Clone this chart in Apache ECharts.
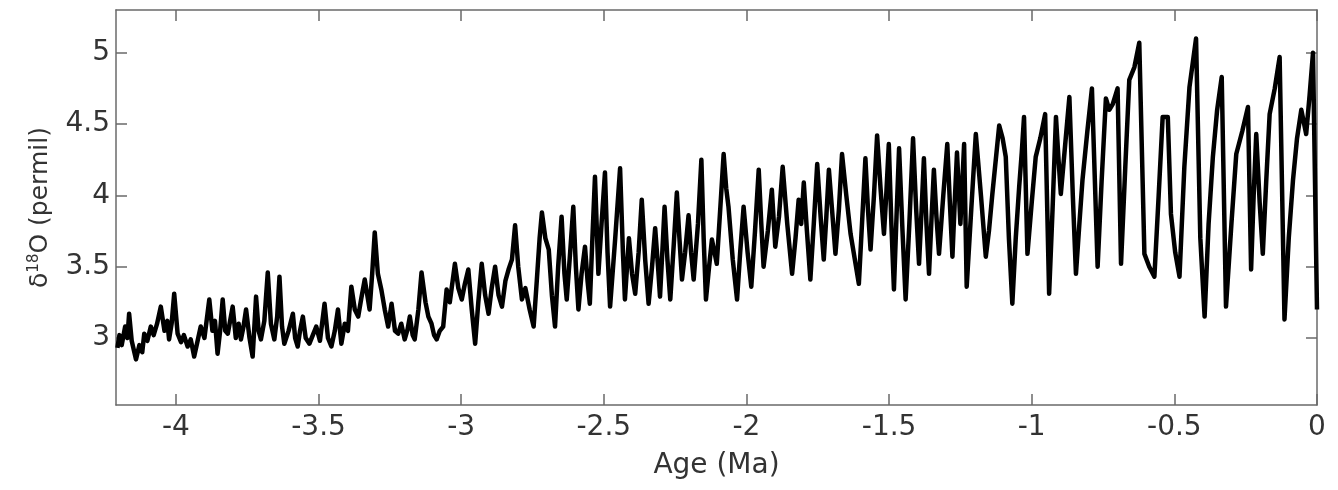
<!DOCTYPE html>
<html>
<head>
<meta charset="utf-8">
<script src="https://cdn.jsdelivr.net/npm/echarts@6/dist/echarts.min.js"></script>
<style>
html,body{margin:0;padding:0;background:#fff;}
#chart{width:1338px;height:490px;}
</style>
</head>
<body>
<div id="chart"></div>
<script>
// Age (Ma) of each read point
var ageMa = [
-4.205,-4.198,-4.190,-4.178,-4.170,-4.164,-4.155,-4.140,-4.128,-4.118,
-4.111,-4.100,-4.088,-4.078,-4.066,-4.053,-4.040,-4.030,-4.024,-4.015,
-4.006,-3.994,-3.982,-3.972,-3.959,-3.948,-3.936,-3.925,-3.913,-3.900,
-3.883,-3.872,-3.863,-3.854,-3.845,-3.836,-3.827,-3.818,-3.810,-3.801,
-3.790,-3.780,-3.772,-3.763,-3.754,-3.742,-3.731,-3.719,-3.710,-3.702,
-3.690,-3.678,-3.667,-3.655,-3.645,-3.637,-3.628,-3.620,-3.605,-3.590,
-3.582,-3.573,-3.565,-3.555,-3.545,-3.532,-3.520,-3.508,-3.495,-3.479,
-3.467,-3.455,-3.443,-3.432,-3.420,-3.408,-3.397,-3.385,-3.373,-3.361,
-3.350,-3.338,-3.321,-3.312,-3.303,-3.292,-3.280,-3.268,-3.256,-3.244,
-3.232,-3.221,-3.210,-3.198,-3.188,-3.180,-3.170,-3.163,-3.150,-3.139,
-3.125,-3.115,-3.104,-3.095,-3.086,-3.075,-3.063,-3.051,-3.040,-3.030,
-3.022,-3.010,-2.998,-2.987,-2.975,-2.963,-2.951,-2.940,-2.928,-2.916,
-2.904,-2.893,-2.881,-2.869,-2.857,-2.845,-2.834,-2.822,-2.811,-2.800,
-2.787,-2.775,-2.760,-2.746,-2.735,-2.725,-2.717,-2.705,-2.693,-2.682,
-2.671,-2.660,-2.648,-2.638,-2.630,-2.618,-2.607,-2.598,-2.589,-2.578,
-2.566,-2.557,-2.549,-2.540,-2.531,-2.519,-2.508,-2.496,-2.487,-2.478,
-2.460,-2.443,-2.433,-2.426,-2.412,-2.401,-2.390,-2.378,-2.367,-2.355,
-2.343,-2.331,-2.320,-2.310,-2.303,-2.295,-2.287,-2.277,-2.267,-2.255,
-2.244,-2.235,-2.226,-2.215,-2.203,-2.194,-2.185,-2.170,-2.158,-2.150,
-2.142,-2.131,-2.121,-2.112,-2.104,-2.092,-2.080,-2.071,-2.063,-2.048,
-2.033,-2.022,-2.010,-1.996,-1.983,-1.970,-1.957,-1.948,-1.940,-1.925,
-1.911,-1.899,-1.886,-1.873,-1.857,-1.840,-1.828,-1.817,-1.808,-1.799,
-1.788,-1.776,-1.764,-1.752,-1.740,-1.729,-1.720,-1.711,-1.700,-1.688,
-1.676,-1.665,-1.650,-1.635,-1.620,-1.606,-1.595,-1.583,-1.574,-1.565,
-1.553,-1.542,-1.530,-1.518,-1.510,-1.501,-1.492,-1.483,-1.474,-1.465,
-1.453,-1.442,-1.429,-1.416,-1.405,-1.395,-1.386,-1.378,-1.369,-1.360,
-1.351,-1.343,-1.334,-1.325,-1.310,-1.296,-1.287,-1.278,-1.270,-1.262,
-1.250,-1.237,-1.228,-1.212,-1.196,-1.178,-1.161,-1.150,-1.138,-1.126,
-1.114,-1.102,-1.091,-1.080,-1.068,-1.056,-1.044,-1.035,-1.027,-1.015,
-1.000,-0.986,-0.970,-0.953,-0.939,-0.927,-0.915,-0.906,-0.898,-0.883,
-0.868,-0.856,-0.845,-0.833,-0.822,-0.805,-0.789,-0.769,-0.755,-0.740,
-0.728,-0.716,-0.699,-0.687,-0.672,-0.658,-0.640,-0.623,-0.605,-0.588,
-0.570,-0.555,-0.541,-0.523,-0.512,-0.497,-0.482,-0.465,-0.447,-0.424,
-0.409,-0.394,-0.380,-0.365,-0.350,-0.334,-0.319,-0.300,-0.283,-0.262,
-0.242,-0.231,-0.222,-0.213,-0.201,-0.190,-0.178,-0.166,-0.148,-0.131,
-0.114,-0.099,-0.084,-0.070,-0.055,-0.038,-0.026,-0.014,0.000
];
// delta 18O (permil) at each age
var d18O = [
2.93,3.02,2.95,3.08,3.00,3.17,2.98,2.85,2.95,2.90,
3.03,2.98,3.08,3.02,3.10,3.22,3.05,3.12,2.99,3.10,
3.31,3.03,2.97,3.02,2.94,2.99,2.87,2.97,3.08,3.00,
3.27,3.05,3.12,2.89,3.05,3.27,3.05,3.03,3.12,3.22,
3.00,3.10,2.99,3.08,3.20,3.00,2.87,3.29,3.05,2.99,
3.12,3.46,3.10,2.99,3.15,3.43,3.08,2.96,3.05,3.17,
3.00,2.94,3.05,3.15,3.00,2.96,3.02,3.08,2.98,3.24,
3.00,2.94,3.05,3.20,2.96,3.10,3.05,3.36,3.20,3.15,
3.28,3.41,3.20,3.45,3.74,3.45,3.34,3.20,3.08,3.24,
3.05,3.03,3.10,2.99,3.06,3.15,3.02,2.99,3.20,3.46,
3.25,3.15,3.10,3.02,2.99,3.05,3.08,3.34,3.25,3.40,
3.52,3.35,3.27,3.38,3.48,3.20,2.96,3.25,3.52,3.30,
3.17,3.35,3.50,3.30,3.22,3.40,3.48,3.55,3.79,3.50,
3.27,3.35,3.20,3.08,3.40,3.70,3.88,3.70,3.62,3.30,
3.08,3.50,3.85,3.45,3.27,3.60,3.92,3.50,3.20,3.45,
3.64,3.40,3.24,3.70,4.13,3.45,3.80,4.16,3.60,3.22,
3.70,4.19,3.60,3.27,3.70,3.45,3.31,3.60,3.97,3.55,
3.24,3.50,3.77,3.50,3.29,3.60,3.92,3.55,3.27,3.65,
4.02,3.70,3.41,3.60,3.86,3.60,3.41,3.80,4.25,3.70,
3.27,3.50,3.69,3.60,3.52,3.90,4.29,4.05,3.92,3.55,
3.27,3.60,3.92,3.60,3.36,3.75,4.18,3.80,3.50,3.75,
4.04,3.64,3.85,4.20,3.80,3.45,3.70,3.97,3.80,4.09,
3.75,3.41,3.80,4.22,3.85,3.55,3.85,4.18,3.90,3.59,
3.90,4.29,4.00,3.73,3.55,3.38,3.80,4.26,3.90,3.62,
4.00,4.42,4.05,3.73,4.00,4.36,3.80,3.34,3.85,4.33,
3.75,3.27,3.80,4.40,3.90,3.52,3.90,4.26,3.80,3.45,
3.85,4.18,3.85,3.59,4.00,4.36,3.95,3.57,3.95,4.30,
3.80,4.36,3.36,3.90,4.43,4.00,3.57,3.75,4.01,4.25,
4.49,4.40,4.27,3.70,3.24,3.70,4.06,4.30,4.55,3.59,
3.95,4.27,4.40,4.57,3.31,3.90,4.55,4.25,4.01,4.35,
4.69,4.00,3.45,3.80,4.11,4.45,4.75,3.50,4.10,4.68,
4.60,4.64,4.75,3.52,4.20,4.81,4.90,5.07,3.59,3.50,
3.43,4.00,4.55,4.55,3.87,3.60,3.43,4.20,4.76,5.10,
3.70,3.15,3.80,4.27,4.60,4.83,3.22,3.80,4.29,4.45,
4.62,3.48,4.00,4.43,3.95,3.59,4.10,4.57,4.75,4.97,
3.13,3.70,4.11,4.40,4.60,4.43,4.70,5.00,3.20
];
var xTicks = [-4, -3.5, -3, -2.5, -2, -1.5, -1, -0.5, 0];
var yTicks = [3, 3.5, 4, 4.5, 5];
var xTitle = 'Age (Ma)';
var yTitle = '{a|δ}{b|18}{a|O (permil)}';

var series = ageMa.map(function (a, i) { return [a, d18O[i]]; });

var FONT = '"DejaVu Sans", Arial, sans-serif';
var AX = '#6a6a6a';
var TXT = '#333';

var chart = echarts.init(document.getElementById('chart'), null, {renderer: 'canvas'});
var baseX = {
  type: 'value', min: -4.21, max: 0,
  axisLine: {show: true, onZero: false, lineStyle: {color: AX, width: 1.5}},
  axisTick: {show: true, inside: true, length: 11, customValues: xTicks, lineStyle: {color: AX, width: 1.5}},
  splitLine: {show: false}
};
var baseY = {
  type: 'value', min: 2.53, max: 5.3,
  axisLine: {show: true, onZero: false, lineStyle: {color: AX, width: 1.5}},
  axisTick: {show: true, inside: true, length: 11, customValues: yTicks, lineStyle: {color: AX, width: 1.5}},
  splitLine: {show: false}
};
chart.setOption({
  animation: false,
  backgroundColor: '#fff',
  grid: {left: 116, right: 21, top: 10, bottom: 85, containLabel: false},
  xAxis: [
    Object.assign({}, baseX, {
      position: 'bottom',
      name: xTitle, nameLocation: 'middle', nameGap: 47,
      nameTextStyle: {fontFamily: FONT, fontSize: 28, color: TXT},
      axisLabel: {show: true, customValues: xTicks, margin: 9, fontFamily: FONT, fontSize: 28, color: TXT,
        formatter: function (v) { return String(v); }}
    }),
    Object.assign({}, baseX, {position: 'top', axisLabel: {show: false}})
  ],
  yAxis: [
    Object.assign({}, baseY, {
      position: 'left',
      name: yTitle, nameLocation: 'middle', nameGap: 62, nameRotate: 90,
      nameTextStyle: {fontFamily: FONT, color: TXT,
        rich: {
          a: {fontFamily: FONT, fontSize: 25, color: TXT},
          b: {fontFamily: FONT, fontSize: 15, color: TXT, padding: [0, 0, 12, 0]}
        }},
      axisLabel: {show: true, customValues: yTicks, margin: 6, fontFamily: FONT, fontSize: 28, color: TXT,
        formatter: function (v) { return String(v); }}
    }),
    Object.assign({}, baseY, {position: 'right', axisLabel: {show: false}})
  ],
  series: [{
    type: 'line',
    data: series,
    xAxisIndex: 0, yAxisIndex: 0,
    showSymbol: false,
    symbol: 'none',
    lineStyle: {color: '#000', width: 4.5, join: 'round'},
    z: 1
  }]
});
</script>
</body>
</html>
